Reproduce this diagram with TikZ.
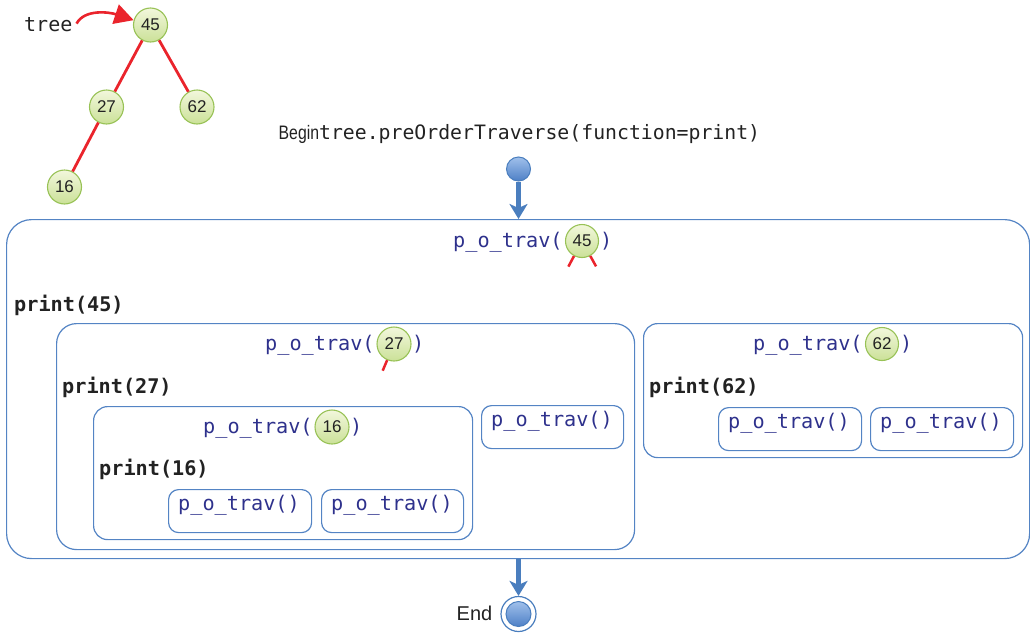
\documentclass[tikz,border=0pt]{standalone}
\usepackage{fontspec}
\setmainfont{Liberation Sans}
\newfontfamily\codefont{DejaVu Sans Mono}
\usetikzlibrary{arrows.meta,calc}

\definecolor{boxblue}{RGB}{84,132,196}
\definecolor{codeblue}{RGB}{46,49,140}
\definecolor{edgered}{RGB}{234,36,44}
\definecolor{nodeedge}{RGB}{152,194,86}
\definecolor{nodetop}{RGB}{242,247,220}
\definecolor{nodebot}{RGB}{203,225,152}
\definecolor{flowblue}{RGB}{74,126,190}
\definecolor{balltop}{RGB}{160,192,235}
\definecolor{ballbot}{RGB}{78,128,198}
\definecolor{ink}{RGB}{34,34,34}

\begin{document}
\begin{tikzpicture}[x=1pt,y=-1pt,
  num/.style={circle, draw=nodeedge, line width=1.1pt, top color=nodetop,
    bottom color=nodebot, minimum size=34pt, inner sep=0pt,
    font=\fontsize{17}{17}\selectfont, text=ink},
  code/.style={font=\codefont\fontsize{20.2}{24}\selectfont, text=codeblue,
    inner sep=0pt, anchor=base west},
  printtxt/.style={font=\codefont\bfseries\fontsize{20.2}{24}\selectfont,
    text=ink, inner sep=0pt, anchor=base west},
  frame/.style={draw=boxblue, line width=1.2pt, rounded corners=#1,
    anchor=north west, inner sep=0pt},
  tedge/.style={draw=edgered, line width=2.8pt},
  flow/.style={draw=flowblue, line width=4.2pt,
    -{Stealth[length=15pt,width=18pt,inset=4pt]}},
  ball/.style={circle, draw=flowblue, line width=1pt, top color=balltop,
    bottom color=ballbot, inner sep=0pt},
]
\useasboundingbox (0,0) rectangle (1030,632);

% ---------- the tree ----------
\node[num] (t45) at (150.5,25) {45};
\node[num] (t27) at (106.5,107) {27};
\node[num] (t62) at (197,107) {62};
\node[num] (t16) at (64.5,187) {16};
\draw[tedge] (t45) -- (t27);
\draw[tedge] (t45) -- (t62);
\draw[tedge] (t27) -- (t16);

\node[font=\codefont\fontsize{20}{24}\selectfont, text=ink, inner sep=0pt,
  anchor=base west] (treelbl) at (24,31.5) {tree};
\draw[tedge, line width=2.6pt, -{Triangle[length=19pt,width=20pt]}]
  ([xshift=4pt,yshift=1pt]treelbl.east) .. controls +(8,-15) and +(-24,-8) .. (t45.164);

% ---------- start ----------
\node[anchor=base west, inner sep=0pt, text=ink,
  font=\fontsize{19.5}{22}\selectfont] (begin) at (278.5,139.5)
  {\scalebox{0.81}[1]{Begin}{\codefont\fontsize{19.8}{22}\selectfont tree.preOrderTraverse(function=print)}};
\node[ball, minimum size=24pt] (start) at (518.5,169) {};

% ---------- call frames ----------
\node[frame=25pt, minimum width=1023pt, minimum height=339pt] (call45) at (6,219) {};
\node[frame=20pt, minimum width=578pt, minimum height=226pt] (call27) at (56,323) {};
\node[frame=14pt, minimum width=379pt, minimum height=133pt] (call16) at (93,406) {};
\node[frame=10pt, minimum width=143pt, minimum height=43pt] (call16l) at (168,489) {};
\node[frame=10pt, minimum width=142pt, minimum height=43pt] (call16r) at (321,489) {};
\node[frame=10pt, minimum width=142pt, minimum height=43pt] (call27r) at (481,405) {};
\node[frame=14pt, minimum width=379pt, minimum height=134pt] (call62) at (643,323) {};
\node[frame=10pt, minimum width=143pt, minimum height=43pt] (call62l) at (718,407) {};
\node[frame=10pt, minimum width=143pt, minimum height=43pt] (call62r) at (870,407) {};

\draw[flow] (start.south) -- (start.south |- call45.north);

% ---------- p_o_trav(45) ----------
\node[code] (h45) at (453,247) {p\_o\_trav(};
\node[num, minimum size=33pt] (c45) at (582,241) {45};
\node[code] (e45) at (600,247) {)};
\coordinate (s45a) at ($(c45)+(242:29pt)$);
\coordinate (s45b) at ($(c45)+(299:29pt)$);
\draw[tedge, line width=2.5pt] (c45.242) -- (s45a);
\draw[tedge, line width=2.5pt] (c45.299) -- (s45b);
\node[printtxt] (p45) at (14,311) {print(45)};

% ---------- p_o_trav(27) ----------
\node[code] (h27) at (265,350.5) {p\_o\_trav(};
\node[num] (c27) at (394,344) {27};
\node[code] (e27) at (412,350.5) {)};
\coordinate (s27a) at ($(c27)+(247:29pt)$);
\draw[tedge, line width=2.5pt] (c27.247) -- (s27a);
\node[printtxt] (p27) at (62,393) {print(27)};

% ---------- p_o_trav(16) ----------
\node[code] (h16) at (203,433.5) {p\_o\_trav(};
\node[num] (c16) at (332,427) {16};
\node[code] (e16) at (350,433.5) {)};
\node[printtxt] (p16) at (99,475) {print(16)};

% ---------- p_o_trav(62) ----------
\node[code] (h62) at (753,350.5) {p\_o\_trav(};
\node[num, minimum size=33pt] (c62) at (882,344) {62};
\node[code] (e62) at (900,350.5) {)};
\node[printtxt] (p62) at (649,393) {print(62)};

% ---------- empty calls ----------
\node[code] (n16l) at ([xshift=10pt,yshift=-21.5pt]call16l.north west) {p\_o\_trav()};
\node[code] (n16r) at ([xshift=10pt,yshift=-21.5pt]call16r.north west) {p\_o\_trav()};
\node[code] (n27r) at ([xshift=10pt,yshift=-21.5pt]call27r.north west) {p\_o\_trav()};
\node[code] (n62l) at ([xshift=10pt,yshift=-21.5pt]call62l.north west) {p\_o\_trav()};
\node[code] (n62r) at ([xshift=10pt,yshift=-21.5pt]call62r.north west) {p\_o\_trav()};

% ---------- end ----------
\node[circle, draw=flowblue, line width=1.2pt, fill=white, minimum size=35pt,
  inner sep=0pt] (end) at (518.5,614) {};
\node[ball, minimum size=25pt] (endcore) at (end) {};
\node[anchor=base east, inner sep=0pt, text=ink,
  font=\fontsize{20}{24}\selectfont] (endlbl) at (492.5,620) {End};
\draw[flow] (end.north |- call45.south) -- (end.north);
\end{tikzpicture}
\end{document}
